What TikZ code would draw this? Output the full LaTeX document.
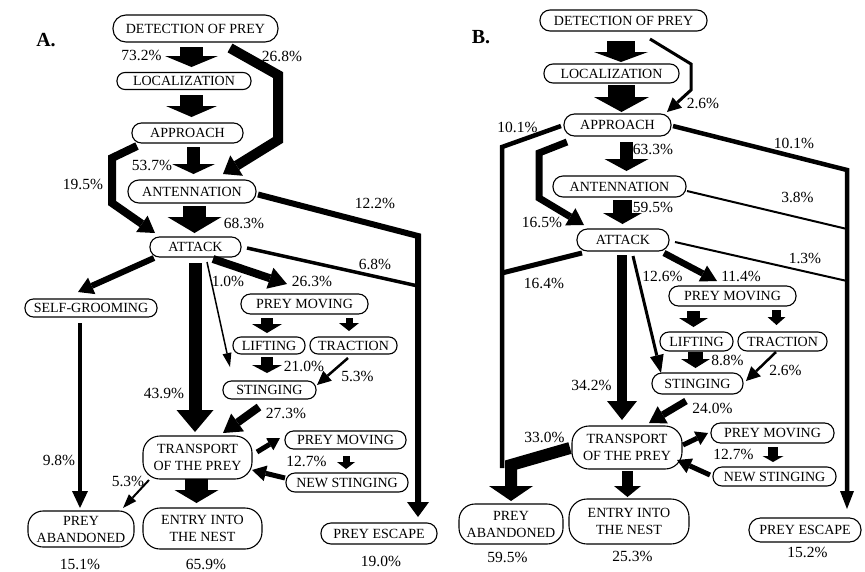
\documentclass[tikz,border=0pt]{standalone}
\usepackage{fontspec}
\setmainfont{Liberation Serif}
\usetikzlibrary{arrows.meta}
\newcommand\ndfont{\fontsize{14}{17}\selectfont}
\newcommand\pcfont{\fontsize{15.5}{17}\selectfont}
\tikzset{
 nd/.style n args={3}{draw, line width=1.1pt, rectangle, rounded corners=#3, minimum width=#1, minimum height=#2, inner sep=0pt, align=center, font=\ndfont},
 pc/.style={inner sep=0pt, font=\pcfont},
 ttl/.style={inner sep=0pt, font=\fontsize{20}{22}\selectfont\bfseries},
 blk/.style n args={3}{line width=#1, line cap=butt, -{Triangle[length=#2,width=#3,line width=0pt]}},
 ln/.style n args={3}{line width=#1, -{Triangle[length=#2,width=#3,line width=0pt]}},
}
\begin{document}
\begin{tikzpicture}[x=1pt,y=-1pt]
\useasboundingbox (0,0) rectangle (865,571);
\fill[white] (0,0) rectangle (865,571);
% ---------------- Panel A ----------------
\node[ttl] (tA) at (46,40) {A.};
\node[nd={165pt}{27pt}{13pt}] (detA) at (195.5,28.5) {DETECTION OF PREY};
\node[nd={134pt}{17pt}{8pt}] (locA) at (184,81) {LOCALIZATION};
\node[nd={111pt}{20pt}{9.5pt}] (apprA) at (187.5,133) {APPROACH};
\node[nd={128pt}{23pt}{11pt}] (antA) at (192,191.5) {ANTENNATION};
\node[nd={91pt}{20pt}{9.5pt}] (attA) at (195.5,247) {ATTACK};
\node[nd={132pt}{18pt}{8.5pt}] (selfA) at (91,308) {SELF-GROOMING};
\node[nd={127pt}{20pt}{9.5pt}] (pmA) at (304.5,304) {PREY MOVING};
\node[nd={72pt}{17pt}{8pt}] (liftA) at (269,345.5) {LIFTING};
\node[nd={87pt}{17pt}{8pt}] (tracA) at (353.5,345.5) {TRACTION};
\node[nd={93pt}{18pt}{8.5pt}] (stingA) at (269.5,390) {STINGING};
\node[nd={109pt}{43pt}{17pt}] (transA) at (197.5,457.5) {TRANSPORT\\OF THE PREY};
\node[nd={121pt}{18pt}{8.5pt}] (pm2A) at (345.5,440) {PREY MOVING};
\node[nd={122pt}{19pt}{9pt}] (nsA) at (347,482.5) {NEW STINGING};
\node[nd={106pt}{36pt}{15pt}] (abA) at (81,529) {PREY\\ABANDONED};
\node[nd={119pt}{41pt}{17pt}] (entA) at (202.5,528.5) {ENTRY INTO\\THE NEST};
\node[nd={116pt}{21pt}{10pt}] (escA) at (379,533.5) {PREY ESCAPE};

\node[pc] (pA1) at (141.5,55) {73.2\%};
\node[pc] (pA2) at (282,56) {26.8\%};
\node[pc] (pA3) at (152,165) {53.7\%};
\node[pc] (pA4) at (83,184) {19.5\%};
\node[pc] (pA5) at (375,203) {12.2\%};
\node[pc] (pA6) at (244,223.5) {68.3\%};
\node[pc] (pA7) at (375,264) {6.8\%};
\node[pc] (pA8) at (228,281) {1.0\%};
\node[pc] (pA9) at (312,281) {26.3\%};
\node[pc] (pA10) at (304,366) {21.0\%};
\node[pc] (pA11) at (357.5,376) {5.3\%};
\node[pc] (pA12) at (164,393.5) {43.9\%};
\node[pc] (pA13) at (286,413) {27.3\%};
\node[pc] (pA14) at (59,460) {9.8\%};
\node[pc] (pA15) at (306.5,461.5) {12.7\%};
\node[pc] (pA16) at (128,481) {5.3\%};
\node[pc] (pA17) at (80,564) {15.1\%};
\node[pc] (pA18) at (206,564) {65.9\%};
\node[pc] (pA19) at (381,561) {19.0\%};

% block arrows A
\draw[blk={23pt}{11pt}{53pt}] ([shift={(-4,18.5)}]detA.center) -- ([shift={(7.5,-14)}]locA.center);
\draw[blk={23pt}{11pt}{51pt}] ([shift={(7.5,14)}]locA.center) -- ([shift={(4,-16)}]apprA.center);
\draw[blk={13pt}{10pt}{43pt}] ([shift={(6,14)}]apprA.center) -- ([shift={(1.5,-17.5)}]antA.center);
\draw[blk={23pt}{16pt}{54pt}] ([shift={(2.5,14.5)}]antA.center) -- ([shift={(-1,-14)}]attA.center);
\draw[blk={13pt}{22pt}{37pt}] ([shift={(-0.5,16)}]attA.center) -- ([shift={(-2.5,-25.5)}]transA.center);
\draw[blk={12pt}{9pt}{30pt}] ([shift={(-37.5,14)}]pmA.center) -- ([shift={(-2,-12.5)}]liftA.center);
\draw[blk={7pt}{8pt}{20pt}] ([shift={(44.5,14)}]pmA.center) -- ([shift={(-4.5,-14.5)}]tracA.center);
\draw[blk={12pt}{8pt}{30pt}] ([shift={(-2,11.5)}]liftA.center) -- ([shift={(-2.5,-17)}]stingA.center);
\draw[blk={7pt}{7pt}{18pt}] ([shift={(0.5,16)}]pm2A.center) -- ([shift={(-1,-13.5)}]nsA.center);
\draw[blk={23pt}{13pt}{44pt}] ([shift={(-1,21.5)}]transA.center) -- ([shift={(-6,-25.5)}]entA.center);

% line arrows A
\draw[ln={10pt}{16pt}{24pt}] ([shift={(34.5,19.5)}]detA.center) -- (278,75) -- (278,140) -- ([shift={(31,-17.5)}]antA.center);
\draw[ln={8pt}{16pt}{20pt}] ([shift={(-50.5,13)}]apprA.center) -- (112,158) -- (112,203) -- ([shift={(-40.5,-14)}]attA.center);
\draw[ln={6pt}{15pt}{22pt}] ([shift={(66,3)}]antA.center) -- (418,236) -- ([shift={(39,-16.5)}]escA.center);
\coordinate (jA) at (418,286);
\draw[line width=3.5pt] ([shift={(51.5,1)}]attA.center) -- (jA);
\draw[ln={6pt}{15pt}{18pt}] ([shift={(-41.5,11)}]attA.center) -- ([shift={(-13,-16)}]selfA.center);
\draw[ln={4pt}{17pt}{16pt}] ([shift={(-11,15)}]selfA.center) -- ([shift={(-1,-21)}]abA.center);
\draw[ln={1.5pt}{14pt}{9pt}] ([shift={(11.5,15)}]attA.center) -- ([shift={(-39.5,-23)}]stingA.center);
\draw[ln={8pt}{18pt}{22pt}] ([shift={(17.5,12)}]attA.center) -- ([shift={(-17.5,-20)}]pmA.center);
\draw[ln={2.5pt}{14pt}{13pt}] ([shift={(-5.5,12.5)}]tracA.center) -- ([shift={(47.5,-5)}]stingA.center);
\draw[ln={8pt}{18pt}{22pt}] ([shift={(-10.5,17)}]stingA.center) -- ([shift={(25.5,-24.5)}]transA.center);
\draw[ln={5pt}{12pt}{14pt}] ([shift={(59.5,-5.5)}]transA.center) -- ([shift={(-65.5,-2)}]pm2A.center);
\draw[ln={5pt}{14pt}{16pt}] ([shift={(-62,-4.5)}]nsA.center) -- ([shift={(54.5,12.5)}]transA.center);
\draw[ln={2pt}{14pt}{10pt}] ([shift={(-48.5,22.5)}]transA.center) -- ([shift={(42,-21)}]abA.center);

% ---------------- Panel B ----------------
\node[ttl] (tB) at (481,37) {B.};
\node[nd={167pt}{21pt}{10pt}] (detB) at (623.5,20.5) {DETECTION OF PREY};
\node[nd={135pt}{19pt}{9pt}] (locB) at (611.5,73.5) {LOCALIZATION};
\node[nd={107pt}{22pt}{10.5pt}] (apprB) at (617.5,125) {APPROACH};
\node[nd={133pt}{21pt}{10pt}] (antB) at (619.5,186.5) {ANTENNATION};
\node[nd={92pt}{22pt}{10.5pt}] (attB) at (623,240) {ATTACK};
\node[nd={127pt}{20pt}{9.5pt}] (pmB) at (732.5,296) {PREY MOVING};
\node[nd={73pt}{19pt}{9pt}] (liftB) at (696.5,341.5) {LIFTING};
\node[nd={89pt}{19pt}{9pt}] (tracB) at (782.5,341.5) {TRACTION};
\node[nd={91pt}{21pt}{10pt}] (stingB) at (697.5,383.5) {STINGING};
\node[nd={110pt}{43pt}{17pt}] (transB) at (627,447.5) {TRANSPORT\\OF THE PREY};
\node[nd={123pt}{20pt}{9.5pt}] (pm2B) at (772.5,433) {PREY MOVING};
\node[nd={123pt}{19pt}{9pt}] (nsB) at (774.5,476.5) {NEW STINGING};
\node[nd={104pt}{40pt}{16pt}] (abB) at (511,524) {PREY\\ABANDONED};
\node[nd={120pt}{45pt}{18pt}] (entB) at (629,521.5) {ENTRY INTO\\THE NEST};
\node[nd={112pt}{24pt}{11.5pt}] (escB) at (805,530) {PREY ESCAPE};

\node[pc] (pB1) at (703,103) {2.6\%};
\node[pc] (pB2) at (517.5,127) {10.1\%};
\node[pc] (pB3) at (794,143) {10.1\%};
\node[pc] (pB4) at (653,149) {63.3\%};
\node[pc] (pB5) at (797.5,197.5) {3.8\%};
\node[pc] (pB6) at (653,207.5) {59.5\%};
\node[pc] (pB7) at (542,222.5) {16.5\%};
\node[pc] (pB8) at (805,258.5) {1.3\%};
\node[pc] (pB9) at (544,283) {16.4\%};
\node[pc] (pB10) at (662.5,276) {12.6\%};
\node[pc] (pB11) at (741,276) {11.4\%};
\node[pc] (pB12) at (727.5,360) {8.8\%};
\node[pc] (pB13) at (785.5,370) {2.6\%};
\node[pc] (pB14) at (591.5,385) {34.2\%};
\node[pc] (pB15) at (712.5,408) {24.0\%};
\node[pc] (pB16) at (544.5,437) {33.0\%};
\node[pc] (pB17) at (733.5,454.5) {12.7\%};
\node[pc] (pB18) at (507.5,557.5) {59.5\%};
\node[pc] (pB19) at (632.5,556) {25.3\%};
\node[pc] (pB20) at (807.5,552.5) {15.2\%};

% block arrows B
\draw[blk={28pt}{10pt}{54pt}] ([shift={(-2.5,20.5)}]detB.center) -- ([shift={(9.5,-11.5)}]locB.center);
\draw[blk={27pt}{15pt}{55pt}] ([shift={(10,11.5)}]locB.center) -- ([shift={(4,-13)}]apprB.center);
\draw[blk={13pt}{12pt}{44pt}] ([shift={(9,17)}]apprB.center) -- ([shift={(7,-15.5)}]antB.center);
\draw[blk={19pt}{11pt}{39pt}] ([shift={(3,13.5)}]antB.center) -- ([shift={(-0.5,-16)}]attB.center);
\draw[blk={10pt}{19pt}{30pt}] ([shift={(-1,15)}]attB.center) -- ([shift={(-5,-27.5)}]transB.center);
\draw[blk={13pt}{9pt}{29pt}] ([shift={(-39,15)}]pmB.center) -- ([shift={(-3,-14.5)}]liftB.center);
\draw[blk={9pt}{8pt}{18pt}] ([shift={(44,14)}]pmB.center) -- ([shift={(-6,-16.5)}]tracB.center);
\draw[blk={15pt}{9pt}{29pt}] ([shift={(-1,10.5)}]liftB.center) -- ([shift={(-2,-15.5)}]stingB.center);
\draw[blk={10pt}{6pt}{21pt}] ([shift={(0.5,14)}]pm2B.center) -- ([shift={(-1.5,-14.5)}]nsB.center);
\draw[blk={11pt}{11pt}{27pt}] ([shift={(0.5,23.5)}]transB.center) -- ([shift={(-1.5,-24.5)}]entB.center);

% line arrows B
\draw[ln={3pt}{14pt}{14pt}] ([shift={(26.5,18.5)}]detB.center) -- (691,64) -- (691,90) -- ([shift={(49.5,-13)}]apprB.center);
\coordinate (jB1) at (502,468);
\draw[line width=4.5pt] ([shift={(-56.5,1)}]apprB.center) -- (502,147) -- (jB1);
\draw[ln={7pt}{16pt}{20pt}] ([shift={(-50.5,17)}]apprB.center) -- (539,153) -- (539,198) -- ([shift={(-39,-15)}]attB.center);
\draw[ln={4.5pt}{18pt}{14pt}] ([shift={(55.5,1)}]apprB.center) -- (847,170) -- ([shift={(42,-21)}]escB.center);
\coordinate (jB2) at (847,229);
\draw[line width=2pt] ([shift={(67.5,4.5)}]antB.center) -- (jB2);
\coordinate (jB3) at (847,281);
\draw[line width=2pt] ([shift={(52,2)}]attB.center) -- (jB3);
\coordinate (jB4) at (502,273);
\draw[line width=5pt] ([shift={(-41,13)}]attB.center) -- (jB4);
\draw[ln={3pt}{18pt}{14pt}] ([shift={(10,16)}]attB.center) -- ([shift={(-36.5,-10.5)}]stingB.center);
\draw[ln={6.5pt}{16pt}{18pt}] ([shift={(41,13)}]attB.center) -- ([shift={(-15.5,-15)}]pmB.center);
\draw[ln={2.5pt}{14pt}{14pt}] ([shift={(-6.5,10.5)}]tracB.center) -- ([shift={(48.5,-2.5)}]stingB.center);
\draw[ln={7pt}{16pt}{20pt}] ([shift={(-11.5,17.5)}]stingB.center) -- ([shift={(22,-24.5)}]transB.center);
\draw[ln={5pt}{12pt}{15pt}] ([shift={(56,-2.5)}]transB.center) -- ([shift={(-64.5,0)}]pm2B.center);
\draw[ln={5pt}{14pt}{16pt}] ([shift={(-64.5,-1.5)}]nsB.center) -- ([shift={(50,12.5)}]transB.center);
\draw[ln={12pt}{15pt}{44pt}] ([shift={(-57,0.5)}]transB.center) -- (511,465) -- ([shift={(0,-23)}]abB.center);
\end{tikzpicture}
\end{document}
